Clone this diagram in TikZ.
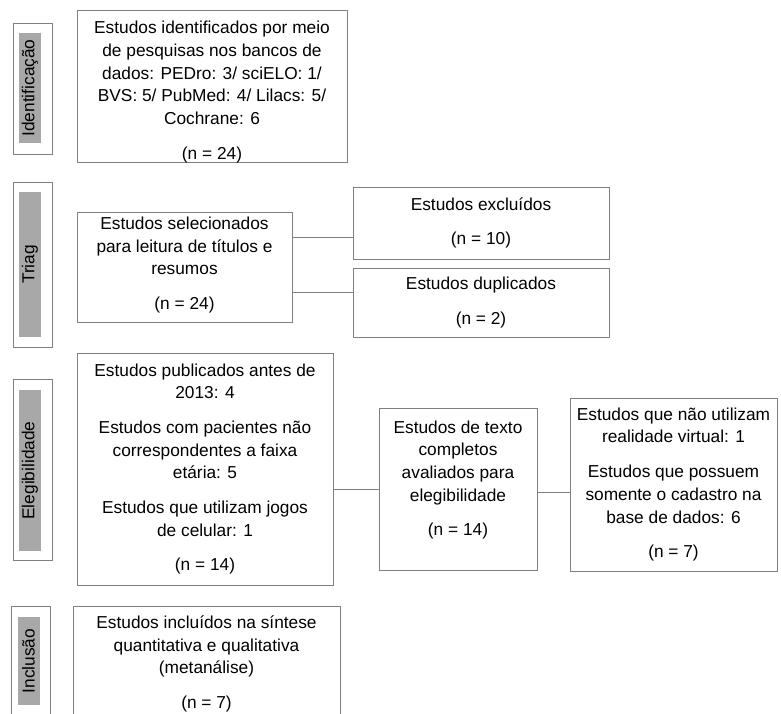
\documentclass[tikz,border=0pt]{standalone}
\usepackage{fontspec}
\setmainfont{Liberation Sans}
\usetikzlibrary{positioning}
\definecolor{framegray}{gray}{0.5}
\definecolor{bargray}{gray}{0.66}
\tikzstyle{box} = [rectangle, draw=framegray, line width=0.9pt, inner sep=0pt]
\tikzstyle{boxtext} = [align=center, inner sep=0pt,
                       font=\fontsize{17.3}{22.7}\selectfont]
\tikzstyle{stage} = [rectangle, draw=framegray, line width=0.9pt, inner sep=0pt,
                     minimum width=39pt]
\tikzstyle{stagebar} = [rectangle, fill=bargray, inner sep=0pt, minimum height=22pt,
                        rotate=90, font=\fontsize{17.3}{19}\selectfont]
\tikzstyle{link} = [framegray, line width=0.9pt]
% box from its corners (left, top, right, bottom), y down; #6 = shift of the text
\newcommand{\placeBox}[7]
{
  \node (#1) [box, minimum width={#4-#2}, minimum height={#5-#3}]
    at ({(#2+#4)/2}, {(#3+#5)/2}) {};
  \node (#1text) [boxtext] at ({(#2+#4)/2}, {(#3+#5)/2+#6}) {#7};
}
\newcommand{\placeStage}[6]
{
  \node (#1) [stage, minimum height={#3-#2}] at (#6, {(#2+#3)/2}) {};
  \node (#1bar) [stagebar, minimum width={#5-#4}] at ({#6-2.5}, {(#4+#5)/2}) {#1};
}
\begin{document}
\begin{tikzpicture}[x=1pt, y=-1pt]
\useasboundingbox (0,0) rectangle (781,714);

% stages on the left
\placeStage{Identificação}{23}{154}{33}{143}{32.5}
\placeStage{Triag}{182}{347}{192}{337}{32.5}
\placeStage{Elegibilidade}{379}{560}{390}{551}{32.5}
\placeStage{Inclusão}{606}{740}{617}{705}{31}

% boxes
\placeBox{ident}{77}{10}{347}{162}{6}{Estudos identificados por meio\\de pesquisas nos bancos de\\dados: PEDro: 3/ sciELO: 1/\\BVS: 5/ PubMed: 4/ Lilacs: 5/\\Cochrane: 6\\[12pt](n = 24)}
\placeBox{triag}{77}{212}{292}{322}{-2}{Estudos selecionados\\para leitura de títulos e\\resumos\\[12pt](n = 24)}
\placeBox{excl}{353}{187}{609}{259}{0}{Estudos excluídos\\[12pt](n = 10)}
\placeBox{dupl}{353}{268}{609}{337}{0}{Estudos duplicados\\[12pt](n = 2)}
\placeBox{eleg}{77}{353}{333}{585}{0}{Estudos publicados antes de\\2013: 4\\[12pt]Estudos com pacientes não\\correspondentes a faixa\\etária: 5\\[12pt]Estudos que utilizam jogos\\de celular: 1\\[12pt](n = 14)}
\placeBox{texto}{379}{408}{537}{570}{-9}{Estudos de texto\\completos\\avaliados para\\elegibilidade\\[12pt](n = 14)}
\placeBox{nutil}{570}{398}{777}{571}{0}{Estudos que não utilizam\\realidade virtual: 1\\[12pt]Estudos que possuem\\somente o cadastro na\\base de dados: 6\\[12pt](n = 7)}
\placeBox{incl}{73}{606}{340}{760}{-19}{Estudos incluídos na síntese\\quantitativa e qualitativa\\(metanálise)\\[12pt](n = 7)}

% connectors
\coordinate (y1) at (0,237);
\coordinate (y2) at (0,292);
\coordinate (y3) at (0,489);
\coordinate (y4) at (0,492);
\draw [link] (triag.east |- y1) -- (excl.west |- y1);
\draw [link] (triag.east |- y2) -- (dupl.west |- y2);
\draw [link] (eleg.east |- y3) -- (texto.west |- y3);
\draw [link] (texto.east |- y4) -- (nutil.west |- y4);

\end{tikzpicture}
\end{document}
